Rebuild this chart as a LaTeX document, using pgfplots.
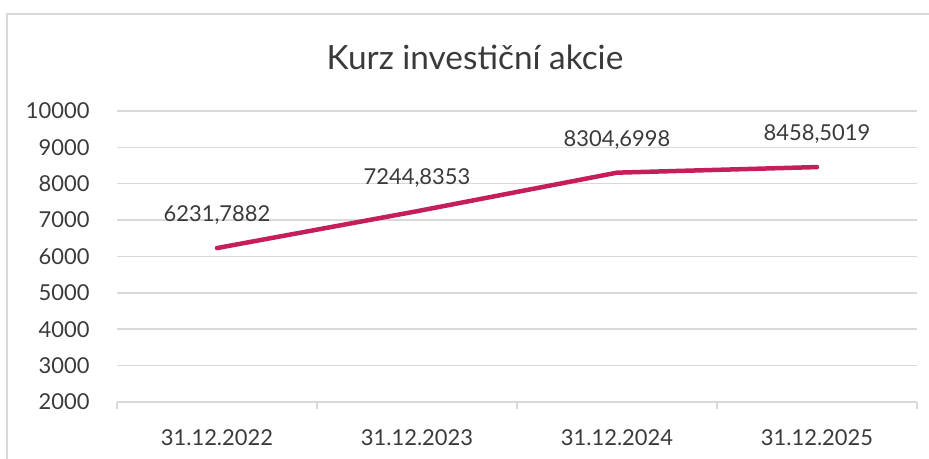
\documentclass[border=0pt]{standalone}
\usepackage{pgfplots}
\pgfplotsset{compat=1.18}
\usepackage{fontspec}
\setmainfont{Lato}
\definecolor{linec}{HTML}{C41F5A}
\definecolor{gridc}{HTML}{D9D9D9}
\definecolor{txt}{HTML}{3A3A3A}
\begin{document}
\begin{tikzpicture}
\useasboundingbox (0,0) rectangle (929bp,459bp);
\draw[gridc, line width=1.5bp] (7bp,0) -- (7bp,445bp) -- (929bp,445bp);
\node[txt, font=\fontsize{33.5}{36}\selectfont] at (475bp,402bp) {Kurz investiční akcie};
\begin{axis}[
  at={(117bp,57bp)}, anchor=south west,
  scale only axis, width=800bp, height=291bp,
  xmin=-0.5, xmax=3.5, ymin=2000, ymax=10000,
  axis x line*=bottom, axis y line*=left,
  x axis line style={gridc, line width=1.5bp, -},
  y axis line style={draw=none},
  xtick={0,1,2,3},
  xticklabels={31.12.2022,31.12.2023,31.12.2024,31.12.2025},
  major tick length=0pt,
  extra x ticks={-0.5,0.5,1.5,2.5,3.5},
  extra x tick labels={},
  extra x tick style={major tick length=7bp, tick align=outside, tick style={gridc, line width=1.5bp}},
  ytick={2000,3000,...,10000},
  scaled y ticks=false,
  yticklabel={\pgfmathprintnumber[fixed,precision=0,1000 sep={},assume math mode=true]{\tick}},
  ytick style={draw=none},
  ymajorgrids, grid style={gridc, line width=1.5bp},
  yticklabel style={txt, font=\fontsize{22}{25}\selectfont, xshift=-24bp},
  xticklabel style={txt, font=\fontsize{22}{25}\selectfont, yshift=-24bp},
  clip=false,
]
\addplot[linec, line width=4.5bp, line cap=round, line join=round,
  nodes near coords, point meta=explicit symbolic,
  every node near coord/.style={txt, font=\fontsize{22}{25}\selectfont, anchor=center, yshift=33bp}]
  coordinates {
  (0,6231.7882) [6231,7882]
  (1,7244.8353) [7244,8353]
  (2,8304.6998) [8304,6998]
  (3,8458.5019) [8458,5019]
  };
\end{axis}
\end{tikzpicture}
\end{document}
